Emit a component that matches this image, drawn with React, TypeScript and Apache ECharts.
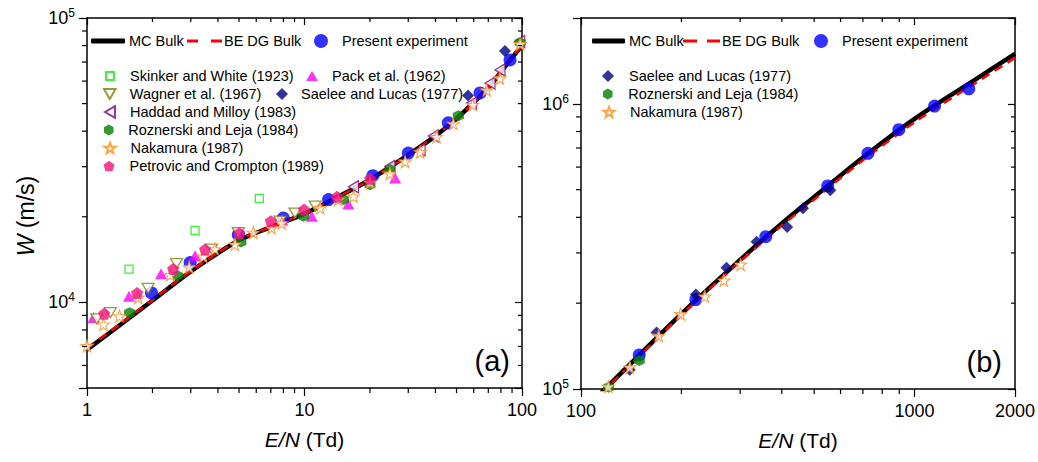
import React, { useEffect, useRef } from 'react';
import * as echarts from 'echarts';

const FONT = 'Arial, "Liberation Sans", Helvetica, sans-serif';

// ---------- Panel (a) data ----------
const mcA_EN = [1, 1.5, 2, 3, 4, 5, 7, 10, 15, 20, 30, 40, 50, 60, 70, 80, 90, 100];
const mcA_W = [6820, 8600, 10150, 12850, 14900, 16550, 18400, 20500, 24000, 27000, 33000, 38500, 44200, 50500, 56800, 64600, 72500, 80000];
const beA_EN = [1, 1.5, 2, 3, 4, 5, 7, 10, 15, 20, 30, 40, 50, 60, 70, 80, 90, 100];
const beA_W = [6900, 8660, 10200, 12900, 14950, 16600, 18450, 20500, 24000, 27000, 33000, 38600, 44300, 50500, 56900, 64800, 72800, 80500];

const presentA_EN = [1.98, 2.98, 4.96, 7.99, 12.9, 20.6, 30, 45.8, 64.1, 88.1];
const presentA_W = [10800, 13800, 17300, 19800, 23000, 27900, 33500, 42800, 54500, 71200];
const skinker_EN = [1.56, 3.14, 6.2];
const skinker_W = [13100, 17900, 23200];
const pack_EN = [1.07, 1.56, 2.19, 3.14, 7.9, 10.8, 15.9, 26.1];
const pack_W = [8840, 10500, 12600, 14600, 19500, 20100, 22200, 27400];
const wagner_EN = [1.11, 1.28, 1.91, 2.58, 3.74, 4.96, 7.71, 9.04, 11.2];
const wagner_W = [8750, 9200, 11200, 13700, 15400, 17600, 19300, 20600, 21800];
const saeleeA_EN = [56.5, 83.5];
const saeleeA_W = [53400, 76600];
const haddad_EN = [16.8, 24.7, 34, 39.1, 58.7, 71.3, 79.2, 97.6];
const haddad_W = [25500, 30100, 34400, 38500, 50200, 59000, 65700, 82600];
const roznerskiA_EN = [1.57, 2.61, 5.1, 9.9, 15.1, 20, 24.7, 51, 98];
const roznerskiA_W = [9200, 12400, 16300, 20100, 23000, 25900, 29300, 45300, 82000];
const nakamuraA_EN = [1.0, 1.19, 1.41, 1.72, 2.41, 2.95, 3.43, 3.87, 4.79, 5.82, 7.06, 7.86, 11.8, 14.3, 16.8, 20, 24.7, 29, 34, 40.5, 48.3, 59.3, 68.8, 79.2, 98];
const nakamuraA_W = [7030, 8370, 8950, 10400, 12500, 13300, 14500, 15400, 16000, 17600, 18300, 19000, 21500, 23000, 23600, 26400, 28400, 31300, 33800, 38200, 42500, 49500, 55800, 61400, 81000];
const petrovic_EN = [1.2, 1.7, 2.49, 3.49, 5.02, 7.0, 9.95, 14.1, 20];
const petrovic_W = [9130, 10800, 13100, 15350, 17500, 19300, 21200, 23500, 27200];

// ---------- Panel (b) data ----------
const mcB_EN = [115, 150, 200, 300, 400, 500, 700, 1000, 1500, 2000];
const mcB_W = [96900, 132000, 183500, 283600, 380500, 471300, 648600, 885800, 1204000, 1497000];
const beB_EN = [115, 150, 200, 300, 400, 500, 700, 1000, 1500, 2000];
const beB_W = [96500, 131000, 182000, 280000, 374000, 462000, 634000, 862000, 1170000, 1450000];
const presentB_EN = [149.5, 221, 358, 549, 725, 897, 1148, 1454];
const presentB_W = [131700, 205800, 342000, 515600, 670600, 812000, 982000, 1129000];
const saeleeB_EN = [140, 168.5, 221, 273, 336, 415, 463, 559];
const saeleeB_W = [116700, 157800, 214300, 266000, 328500, 369800, 430700, 497800];
const roznerskiB_EN = [121, 149.5];
const roznerskiB_W = [101500, 125800];
const nakamuraB_EN = [120.7, 140, 171, 199, 235, 268, 301];
const nakamuraB_W = [101900, 119200, 153700, 183300, 211300, 240500, 273300];

// ---------- Axes ----------
const xA_range = [1, 100];
const yA_range = [5000, 100000];
const xB_range = [100, 2000];
const yB_range = [100000, 2000000];
const xA_minor = [2, 3, 4, 5, 6, 7, 8, 9, 20, 30, 40, 50, 60, 70, 80, 90];
const yA_minor = [6000, 7000, 8000, 9000, 20000, 30000, 40000, 50000, 60000, 70000, 80000, 90000];
const xB_minor = [200, 300, 400, 500, 600, 700, 800, 900];
const yB_minor = [200000, 300000, 400000, 500000, 600000, 700000, 800000, 900000];

const NAMES = {
  mc: 'MC Bulk',
  be: 'BE DG Bulk',
  present: 'Present experiment',
  skinker: 'Skinker and White (1923)',
  pack: 'Pack et al. (1962)',
  wagner: 'Wagner et al. (1967)',
  saelee: 'Saelee and Lucas (1977)',
  haddad: 'Haddad and Milloy (1983)',
  roznerski: 'Roznerski and Leja (1984)',
  nakamura: 'Nakamura (1987)',
  petrovic: 'Petrovic and Crompton (1989)',
};

const SYM = {
  star: 'path://M50,0 L61.8,35.1 L98.1,35.1 L68.8,56.8 L79.4,91 L50,70 L20.6,91 L31.2,56.8 L1.9,35.1 L38.2,35.1 Z',
  pentagon: 'path://M50,0 L97.6,34.5 L79.4,90.5 L20.6,90.5 L2.4,34.5 Z',
  hexagon: 'path://M50,0 L93.3,25 L93.3,75 L50,100 L6.7,75 L6.7,25 Z',
  down: 'path://M0,0 L100,0 L50,86.6 Z',
  left: 'path://M86.6,0 L86.6,100 L0,50 Z',
};

const zip = (xs: number[], ys: number[]) => xs.map((x, i) => [x, ys[i]]);

const STYLE: Record<string, any> = {
  present: { symbol: 'circle', symbolSize: 13, itemStyle: { color: '#0000ff' } },
  skinker: { symbol: 'rect', symbolSize: 8, itemStyle: { color: '#ffffff', borderColor: '#11ee11', borderWidth: 1.3 } },
  pack: { symbol: 'triangle', symbolSize: [12, 11], itemStyle: { color: '#ff00ff' } },
  wagner: { symbol: SYM.down, symbolSize: [12, 10], itemStyle: { color: '#ffffff', borderColor: '#808000', borderWidth: 1.3 } },
  saelee: { symbol: 'diamond', symbolSize: 12, itemStyle: { color: '#000080' } },
  haddad: { symbol: SYM.left, symbolSize: [10, 12], itemStyle: { color: '#ffffff', borderColor: '#800080', borderWidth: 1.3 } },
  roznerski: { symbol: SYM.hexagon, symbolSize: 11, itemStyle: { color: '#008000' } },
  nakamura: { symbol: SYM.star, symbolSize: 12, itemStyle: { color: '#ffffff', borderColor: '#ff8c1a', borderWidth: 1.1 } },
  petrovic: { symbol: SYM.pentagon, symbolSize: 12, itemStyle: { color: '#f5127d' } },
};

function scatter(key: string, xi: number, xs: number[], ys: number[]) {
  return {
    type: 'scatter',
    name: (NAMES as any)[key],
    xAxisIndex: xi,
    yAxisIndex: xi,
    data: zip(xs, ys),
    ...STYLE[key],
    z: 3,
  };
}

function mcLine(xi: number, xs: number[], ys: number[]) {
  return {
    type: 'line', name: NAMES.mc, xAxisIndex: xi, yAxisIndex: xi, data: zip(xs, ys),
    symbol: 'none', smooth: 0.3, lineStyle: { color: '#000', width: 4.5 }, itemStyle: { color: '#000' }, z: 2,
  };
}
function beLine(xi: number, xs: number[], ys: number[]) {
  return {
    type: 'line', name: NAMES.be, xAxisIndex: xi, yAxisIndex: xi, data: zip(xs, ys),
    symbol: 'none', smooth: 0.3, lineStyle: { color: '#ff0000', width: 2.5, type: [9, 6] }, itemStyle: { color: '#ff0000' }, z: 2,
  };
}

function tickSeries(xi: number, xMinor: number[], yMinor: number[], xr: number[], yr: number[]) {
  const data = [...xMinor.map((v) => [v, yr[0], 0]), ...yMinor.map((v) => [xr[0], v, 1])];
  return {
    type: 'custom', xAxisIndex: xi, yAxisIndex: xi, silent: true, clip: false, z: 10,
    dimensions: ['x', 'y', 'k'], encode: { x: 0, y: 1 },
    data,
    renderItem: (_p: any, api: any) => {
      const k = api.value(2);
      const st = { stroke: '#000', lineWidth: 1.2 };
      if (k === 0) {
        const v = api.value(0);
        const a = api.coord([v, yr[0]]);
        const b = api.coord([v, yr[1]]);
        return {
          type: 'group', children: [
            { type: 'line', shape: { x1: a[0], y1: a[1], x2: a[0], y2: a[1] + 5 }, style: st },
            { type: 'line', shape: { x1: b[0], y1: b[1], x2: b[0], y2: b[1] + 4 }, style: st },
          ],
        };
      }
      const v = api.value(1);
      const a = api.coord([xr[0], v]);
      const b = api.coord([xr[1], v]);
      return {
        type: 'group', children: [
          { type: 'line', shape: { x1: a[0] - 5, y1: a[1], x2: a[0], y2: a[1] }, style: st },
          { type: 'line', shape: { x1: b[0] - 4, y1: b[1], x2: b[0], y2: b[1] }, style: st },
        ],
      };
    },
  };
}

const axisLine = { show: true, onZero: false, lineStyle: { color: '#000', width: 1.5 } };
const tickLine = { color: '#000', width: 1.2 };

function xBottom(grid: number, r: number[]) {
  return {
    type: 'log', gridIndex: grid, min: r[0], max: r[1], position: 'bottom',
    axisLine, axisTick: { show: true, inside: false, length: 8, lineStyle: tickLine },
    splitLine: { show: false },
    axisLabel: {
      show: true, color: '#000', fontSize: 18, fontFamily: FONT, margin: 13,
      showMinLabel: true, showMaxLabel: true,
      formatter: (v: number) => String(Math.round(v)),
    },
    name: '{i|E/N} (Td)', nameLocation: 'middle', nameGap: 41,
    nameTextStyle: {
      fontSize: 21, color: '#000', fontFamily: FONT,
      rich: { i: { fontStyle: 'italic', fontSize: 21, color: '#000', fontFamily: FONT } },
    },
  };
}
function xTop(grid: number, r: number[]) {
  return {
    type: 'log', gridIndex: grid, min: r[0], max: r[1], position: 'top',
    axisLine, axisTick: { show: true, inside: true, length: 7, lineStyle: tickLine },
    splitLine: { show: false }, axisLabel: { show: false },
  };
}
const powLabel = (v: number) => {
  const l = Math.log10(v);
  const e = Math.round(l);
  if (Math.abs(l - e) > 1e-6) return '';
  return `{b|10}{s|${e}}`;
};
function yLeft(grid: number, r: number[], withName: boolean) {
  return {
    type: 'log', gridIndex: grid, min: r[0], max: r[1], position: 'left',
    axisLine, axisTick: { show: true, inside: false, length: 8, lineStyle: tickLine },
    splitLine: { show: false },
    axisLabel: {
      show: true, margin: 12, formatter: powLabel, showMinLabel: true, showMaxLabel: true,
      rich: {
        b: { fontSize: 18, fontFamily: FONT, color: '#000', lineHeight: 22 },
        s: { fontSize: 12, fontFamily: FONT, color: '#000', verticalAlign: 'top', lineHeight: 12 },
      },
    },
    name: withName ? '{i|W} (m/s)' : '',
    nameLocation: 'middle', nameGap: 50, nameRotate: 90,
    nameTextStyle: {
      fontSize: 23, color: '#000', fontFamily: FONT, padding: [0, 26, 0, 0],
      rich: { i: { fontStyle: 'italic', fontSize: 23, color: '#000', fontFamily: FONT } },
    },
  };
}
function yRight(grid: number, r: number[]) {
  return {
    type: 'log', gridIndex: grid, min: r[0], max: r[1], position: 'right',
    axisLine, axisTick: { show: true, inside: true, length: 7, lineStyle: tickLine },
    splitLine: { show: false }, axisLabel: { show: false },
  };
}

// legend item: icon box at `left` with size w x h; text shifted by pad
function leg(name: string, left: number, top: number, w: number, h: number, pad: number, icon?: string) {
  const item: any = { name };
  if (icon) item.icon = icon;
  return {
    data: [item], left, top, itemWidth: w, itemHeight: h, padding: 0, itemGap: 0, selectedMode: false,
    textStyle: { fontSize: 14.5, color: '#000', fontFamily: FONT, lineHeight: 18, padding: [0, 0, 0, pad] },
  };
}
const DASH_A = 'path://M0,0 H11 V3 H0 Z M24,0 H35 V3 H24 Z';
const DASH_B = 'path://M0,0 H14 V3 H0 Z M24,0 H37 V3 H24 Z';

export default function App() {
  const ref = useRef<HTMLDivElement>(null);
  useEffect(() => {
    const chart = echarts.init(ref.current!, null, { renderer: 'svg', width: 1038, height: 462 });
    const option: any = {
      animation: false,
      backgroundColor: '#ffffff',
      grid: [
        { left: 87, top: 18, width: 435, height: 370 },
        { left: 581, top: 18, width: 435, height: 371 },
      ],
      xAxis: [xBottom(0, xA_range), xTop(0, xA_range), xBottom(1, xB_range), xTop(1, xB_range)],
      yAxis: [yLeft(0, yA_range, true), yRight(0, yA_range), yLeft(1, yB_range, false), yRight(1, yB_range)],
      legend: [
        leg(NAMES.mc, 91, 32, 34, 5, -1, 'roundRect'),
        leg(NAMES.be, 187, 32, 35, 3, -3, DASH_A),
        leg(NAMES.present, 314, 32, 14, 14, 9, 'circle'),
        leg(NAMES.skinker, 105, 67, 8, 8, 11),
        leg(NAMES.pack, 306, 67, 12, 10, 9),
        leg(NAMES.wagner, 103, 85, 12, 10, 9),
        leg(NAMES.saelee, 276, 85, 12, 12, 8),
        leg(NAMES.haddad, 104, 103, 10, 12, 10),
        leg(NAMES.roznerski, 104, 121, 11, 11, 9),
        leg(NAMES.nakamura, 103.5, 139, 11, 11, 10),
        leg(NAMES.petrovic, 103.5, 157, 11, 11, 10),
        leg(NAMES.mc, 592, 32, 33, 5, -1, 'roundRect'),
        leg(NAMES.be, 683, 32, 37, 3, -3, DASH_B),
        leg(NAMES.present, 814, 32, 14, 14, 9, 'circle'),
        leg(NAMES.saelee, 602, 67, 12, 12, 10),
        leg(NAMES.roznerski, 603, 85, 11, 11, 10),
        leg(NAMES.nakamura, 602.5, 103, 11, 11, 10.5),
      ],
      graphic: [
        { type: 'text', x: 510, y: 361, style: { text: '(a)', fontSize: 29, fontFamily: FONT, fill: '#000', textAlign: 'right', textVerticalAlign: 'middle' } },
        { type: 'text', x: 1002, y: 362, style: { text: '(b)', fontSize: 29, fontFamily: FONT, fill: '#000', textAlign: 'right', textVerticalAlign: 'middle' } },
      ],
      series: [
        mcLine(0, mcA_EN, mcA_W),
        beLine(0, beA_EN, beA_W),
        scatter('present', 0, presentA_EN, presentA_W),
        scatter('skinker', 0, skinker_EN, skinker_W),
        scatter('pack', 0, pack_EN, pack_W),
        scatter('wagner', 0, wagner_EN, wagner_W),
        scatter('saelee', 0, saeleeA_EN, saeleeA_W),
        scatter('haddad', 0, haddad_EN, haddad_W),
        scatter('roznerski', 0, roznerskiA_EN, roznerskiA_W),
        scatter('nakamura', 0, nakamuraA_EN, nakamuraA_W),
        scatter('petrovic', 0, petrovic_EN, petrovic_W),
        tickSeries(0, xA_minor, yA_minor, xA_range, yA_range),
        mcLine(2, mcB_EN, mcB_W),
        beLine(2, beB_EN, beB_W),
        scatter('present', 2, presentB_EN, presentB_W),
        scatter('saelee', 2, saeleeB_EN, saeleeB_W),
        scatter('roznerski', 2, roznerskiB_EN, roznerskiB_W),
        scatter('nakamura', 2, nakamuraB_EN, nakamuraB_W),
        tickSeries(2, xB_minor, yB_minor, xB_range, yB_range),
      ],
    };
    chart.setOption(option);
    return () => chart.dispose();
  }, []);
  return <div ref={ref} style={{ position: 'fixed', left: 0, top: 0, width: 1038, height: 462, background: '#fff' }} />;
}
